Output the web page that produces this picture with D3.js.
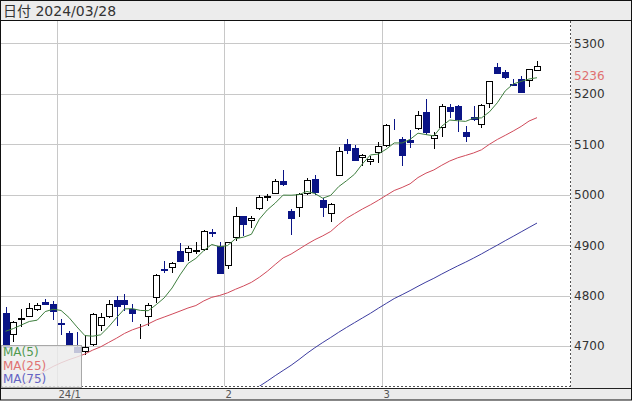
<!DOCTYPE html>
<html>
<head>
<meta charset="utf-8">
<script src="https://cdn.jsdelivr.net/npm/d3@7"></script>
<style>
  html, body { margin: 0; padding: 0; background: #fff; }
  svg { display: block; font-family: "DejaVu Sans", "Noto Sans CJK JP", sans-serif; }
</style>
</head>
<body>
<svg id="chart" width="633" height="402"></svg>
<script>
// daily candles, 2023/12/20 - 2024/03/28
const dates = [
  "2023-12-20","2023-12-21","2023-12-22","2023-12-26","2023-12-27","2023-12-28","2023-12-29",
  "2024-01-02","2024-01-03","2024-01-04","2024-01-05","2024-01-08","2024-01-09","2024-01-10","2024-01-11","2024-01-12",
  "2024-01-16","2024-01-17","2024-01-18","2024-01-19","2024-01-22","2024-01-23","2024-01-24","2024-01-25","2024-01-26",
  "2024-01-29","2024-01-30","2024-01-31",
  "2024-02-01","2024-02-02","2024-02-05","2024-02-06","2024-02-07","2024-02-08","2024-02-09","2024-02-12","2024-02-13",
  "2024-02-14","2024-02-15","2024-02-16","2024-02-20","2024-02-21","2024-02-22","2024-02-23","2024-02-26","2024-02-27",
  "2024-02-28","2024-02-29",
  "2024-03-01","2024-03-04","2024-03-05","2024-03-06","2024-03-07","2024-03-08","2024-03-11","2024-03-12","2024-03-13",
  "2024-03-14","2024-03-15","2024-03-18","2024-03-19","2024-03-20","2024-03-21","2024-03-22","2024-03-25","2024-03-26",
  "2024-03-27","2024-03-28"
];

const opens = [
  4764.73, 4724.29, 4753.92, 4758.86, 4773.45, 4786.44, 4782.88,
  4745.20, 4725.07, 4697.42, 4690.57, 4703.70, 4741.93, 4759.94, 4792.13, 4791.18, 4772.35, 4739.13, 4760.10, 4796.28,
  4853.42, 4856.80, 4888.56, 4886.66, 4888.91, 4892.95, 4925.89, 4899.19,
  4861.11, 4916.06, 4957.19, 4950.16, 4973.05, 4995.16, 5004.17, 5026.83, 4967.94, 4976.44, 5003.14, 5031.13, 4989.32,
  4963.03, 5038.83, 5100.92, 5093.00, 5074.60, 5067.20, 5085.36,
  5098.51, 5130.99, 5110.52, 5108.03, 5132.38, 5164.46, 5111.96, 5134.30, 5173.49, 5175.14, 5123.31, 5154.77, 5139.09,
  5181.69, 5253.43, 5242.48, 5219.52, 5228.85, 5226.31, 5248.03
];

const highs = [
  4778.01, 4748.71, 4772.94, 4784.72, 4785.39, 4793.30, 4788.43,
  4754.33, 4729.29, 4726.78, 4721.49, 4764.54, 4765.47, 4790.80, 4798.50, 4802.40, 4782.34, 4744.23, 4785.79, 4842.07,
  4868.41, 4866.48, 4903.68, 4898.15, 4906.69, 4929.31, 4931.09, 4906.75,
  4906.97, 4975.29, 4957.19, 4957.77, 4999.89, 5000.40, 5030.06, 5048.39, 4971.11, 5002.52, 5032.72, 5038.70, 4993.71,
  4983.21, 5094.39, 5111.06, 5097.66, 5080.69, 5077.37, 5104.99,
  5140.33, 5149.67, 5114.54, 5127.97, 5165.62, 5189.26, 5124.66, 5179.87, 5179.14, 5176.85, 5136.86, 5175.60, 5180.31,
  5226.19, 5261.10, 5246.09, 5229.09, 5235.16, 5249.26, 5264.85
];

const lows = [
  4697.82, 4708.35, 4736.77, 4758.45, 4768.90, 4780.98, 4751.99,
  4722.67, 4699.71, 4687.53, 4682.11, 4699.82, 4730.35, 4756.20, 4739.58, 4768.98, 4747.12, 4714.82, 4740.57, 4785.87,
  4844.05, 4844.37, 4865.94, 4869.34, 4881.47, 4887.40, 4916.27, 4845.15,
  4853.52, 4907.99, 4918.09, 4934.88, 4969.05, 4987.09, 5000.34, 5016.83, 4920.31, 4956.45, 4999.44, 4999.52, 4955.02,
  4946.00, 5038.83, 5081.46, 5068.91, 5057.29, 5058.35, 5061.89,
  5094.16, 5127.18, 5056.82, 5092.22, 5128.21, 5117.50, 5091.14, 5114.48, 5151.88, 5123.30, 5104.35, 5145.47, 5131.59,
  5171.55, 5240.66, 5229.87, 5216.09, 5203.42, 5213.92, 5245.82
];

const closes = [
  4698.35, 4746.75, 4754.63, 4774.75, 4781.58, 4783.35, 4769.83,
  4742.83, 4704.81, 4688.68, 4697.24, 4763.54, 4756.50, 4783.45, 4780.24, 4783.83, 4765.98, 4739.21, 4780.94, 4839.81,
  4850.43, 4864.60, 4868.55, 4894.16, 4890.97, 4927.93, 4924.97, 4845.65,
  4906.19, 4958.61, 4942.81, 4954.23, 4995.06, 4997.91, 5026.61, 5021.84, 4953.17, 5000.62, 5029.73, 5005.57, 4975.51,
  4981.80, 5087.03, 5088.80, 5069.53, 5078.18, 5069.76, 5096.27,
  5137.08, 5130.95, 5078.65, 5104.76, 5157.36, 5123.69, 5117.94, 5175.27, 5165.31, 5150.48, 5117.09, 5149.42, 5178.51,
  5224.62, 5241.53, 5234.18, 5218.19, 5203.58, 5248.49, 5254.35
];

const ma5 = [
  4729.2, 4734.6, 4741.7, 4748.6, 4751.2, 4768.2, 4772.8,
  4770.5, 4756.5, 4737.9, 4720.7, 4719.4, 4722.2, 4737.9, 4756.2, 4773.5, 4774.0, 4770.5, 4770.0, 4782.0,
  4795.3, 4815.0, 4840.9, 4863.5, 4873.7, 4889.2, 4901.3, 4896.7,
  4899.1, 4912.7, 4915.7, 4921.5, 4951.4, 4969.7, 4983.3, 4999.1, 4998.9, 5000.0, 5006.4, 5002.2, 4992.9,
  4998.7, 5015.9, 5027.7, 5040.5, 5061.1, 5078.7, 5080.5,
  5090.2, 5102.5, 5102.5, 5109.5, 5121.8, 5119.1, 5116.5, 5135.8, 5147.9, 5146.5, 5145.2, 5151.5, 5152.2,
  5164.0, 5182.2, 5205.7, 5219.4, 5224.4, 5229.2, 5231.8
];

const ma25 = [
  4601.6, 4611.4, 4621.2, 4631.7, 4641.0, 4650.8, 4659.4,
  4666.7, 4672.9, 4678.2, 4684.1, 4691.9, 4698.4, 4707.0, 4715.5, 4724.9, 4732.1, 4737.5, 4743.8, 4751.6,
  4757.4, 4763.2, 4769.2, 4775.3, 4780.2, 4789.4, 4796.5, 4800.2,
  4805.4, 4812.5, 4818.9, 4826.2, 4836.3, 4848.1, 4861.6, 4874.6, 4882.2, 4891.9, 4901.8, 4910.8, 4918.4,
  4927.1, 4941.0, 4953.3, 4962.5, 4971.6, 4979.8, 4988.9,
  4998.6, 5008.2, 5014.3, 5021.5, 5033.9, 5042.6, 5049.0, 5058.3, 5066.7, 5073.0, 5077.7, 5082.6, 5088.9,
  5099.8, 5109.4, 5117.6, 5126.1, 5135.2, 5145.9, 5152.6
];

const ma75 = [
  null, null, null, null, null, null, null,
  null, null, null, null, null, null, null, null, null, null, null, null, null,
  null, null, null, null, null, null, null, null,
  null, null, 4602.0, 4610.5, 4620.1, 4630.4, 4641.2, 4651.5, 4661.7, 4673.2, 4685.4, 4696.6, 4707.0,
  4716.9, 4727.2, 4736.9, 4746.3, 4755.6, 4764.8, 4774.8,
  4784.4, 4794.0, 4801.8, 4809.8, 4818.4, 4826.6, 4834.2, 4842.7, 4850.8, 4858.7, 4866.2, 4874.2, 4882.5,
  4891.3, 4899.9, 4908.8, 4917.4, 4926.2, 4935.0, 4943.7
];

const priceTicks = [4700, 4800, 4900, 5000, 5100, 5200, 5300];
const monthLabels = ["24/1", "2", "3"];
const lastPrice = 5236;
const headerText = "日付 2024/03/28";
const legendItems = [
  { name: "MA(5)", color: "#4f9a4f" },
  { name: "MA(25)", color: "#e07272" },
  { name: "MA(75)", color: "#6464c4" }
];

const svg = d3.select("#chart");
const W = 633, H = 402;
const plot = { left: 1, right: 570, top: 21, bottom: 386 };

const data = dates.map((d, i) => ({
  date: d3.timeParse("%Y-%m-%d")(d),
  key: d,
  open: opens[i], high: highs[i], low: lows[i], close: closes[i],
  ma5: ma5[i], ma25: ma25[i], ma75: ma75[i]
}));

const x = d3.scalePoint().domain(dates).range([5.5, 537]);
const step = x.step();
const y = d3.scaleLinear().domain([4700, 5300]).range([346, 43.3]);

// background panels
svg.append("rect").attr("x", 0).attr("y", 0).attr("width", W).attr("height", H).attr("fill", "#fff");
svg.append("rect").attr("x", 1).attr("y", 1).attr("width", 630).attr("height", 20).attr("fill", "#ececec");
svg.append("rect").attr("x", 571).attr("y", 21).attr("width", 60).attr("height", 368).attr("fill", "#ececec");
svg.append("rect").attr("x", 1).attr("y", 389).attr("width", 630).attr("height", 11).attr("fill", "#ececec");

svg.append("defs").append("clipPath").attr("id", "plotClip")
  .append("rect")
  .attr("x", plot.left).attr("y", plot.top)
  .attr("width", plot.right - plot.left).attr("height", plot.bottom - plot.top);

const g = svg.append("g").attr("clip-path", "url(#plotClip)");

// horizontal grid
g.selectAll(".hgrid").data(priceTicks).enter().append("line")
  .attr("x1", plot.left).attr("x2", plot.right)
  .attr("y1", d => Math.round(y(d)) + 0.5).attr("y2", d => Math.round(y(d)) + 0.5)
  .attr("stroke", "#c8c8c8").attr("stroke-width", 1);

// month boundaries
const monthStarts = data.filter((d, i) => i > 0 && d.date.getMonth() !== data[i - 1].date.getMonth());
const monthX = d => Math.round(x(d.key) - step / 2) + 0.5;

g.selectAll(".vgrid").data(monthStarts).enter().append("line")
  .attr("x1", monthX).attr("x2", monthX)
  .attr("y1", plot.top).attr("y2", plot.bottom)
  .attr("stroke", "#c8c8c8").attr("stroke-width", 1);

// candles
const upColor = "#000000", downColor = "#0a1486";
const candles = g.selectAll(".candle").data(data).enter().append("g");

candles.append("line")
  .attr("x1", d => Math.round(x(d.key)) + 0.5)
  .attr("x2", d => Math.round(x(d.key)) + 0.5)
  .attr("y1", d => Math.round(y(d.high)))
  .attr("y2", d => Math.round(y(d.low)))
  .attr("stroke", d => d.close >= d.open ? upColor : downColor)
  .attr("stroke-width", 1);

candles.append("rect")
  .attr("x", d => Math.round(x(d.key)) - 3 + 0.5)
  .attr("width", 6)
  .attr("y", d => Math.round(y(Math.max(d.open, d.close))) + 0.5)
  .attr("height", d => Math.max(0, Math.round(y(Math.min(d.open, d.close))) - Math.round(y(Math.max(d.open, d.close)))))
  .attr("fill", d => d.close >= d.open ? "#fff" : downColor)
  .attr("stroke", d => d.close >= d.open ? upColor : downColor)
  .attr("stroke-width", 1);

// moving averages
const maLine = key => d3.line()
  .defined(d => d[key] != null)
  .x(d => x(d.key))
  .y(d => y(d[key]));

[["ma75", "#3c3ca0"], ["ma25", "#d04a5a"], ["ma5", "#3f7f3f"]].forEach(([key, color]) => {
  g.append("path")
    .datum(data)
    .attr("fill", "none")
    .attr("stroke", color)
    .attr("stroke-width", 1)
    .attr("d", maLine(key));
});

// plot borders
svg.append("line")
  .attr("x1", plot.left).attr("x2", plot.right)
  .attr("y1", 386.5).attr("y2", 386.5)
  .attr("stroke", "#555").attr("stroke-dasharray", "2,2");
svg.append("line")
  .attr("x1", 570.5).attr("x2", 570.5)
  .attr("y1", plot.top).attr("y2", 388)
  .attr("stroke", "#555").attr("stroke-dasharray", "2,2");
svg.append("line")
  .attr("x1", 1).attr("x2", 631)
  .attr("y1", 388.5).attr("y2", 388.5)
  .attr("stroke", "#222");
svg.append("line")
  .attr("x1", 1).attr("x2", 631)
  .attr("y1", 20.5).attr("y2", 20.5)
  .attr("stroke", "#111");

// legend box
const legend = svg.append("g");
legend.append("rect")
  .attr("x", 1.5).attr("y", 345.5).attr("width", 80).attr("height", 42)
  .attr("fill", "#ececec").attr("fill-opacity", 0.82)
  .attr("stroke", "#a8a8a8");
legend.selectAll("text").data(legendItems).enter().append("text")
  .attr("x", 3)
  .attr("y", (d, i) => 356 + i * 13.7)
  .attr("fill", d => d.color)
  .attr("font-size", 12)
  .text(d => d.name);

// price axis labels
svg.selectAll(".ytick").data(priceTicks).enter().append("text")
  .attr("x", 574)
  .attr("y", d => y(d) + 4.4)
  .attr("font-size", 12)
  .attr("fill", "#333")
  .text(d => d);

svg.append("text")
  .attr("x", 574)
  .attr("y", y(lastPrice) + 4.4)
  .attr("font-size", 12)
  .attr("fill", "#e07070")
  .text(lastPrice);

// month labels
svg.selectAll(".xtick").data(monthStarts).enter().append("text")
  .attr("x", d => monthX(d) + 1)
  .attr("y", 397.5)
  .attr("font-size", 10)
  .attr("fill", "#555")
  .text((d, i) => monthLabels[i]);

// header
svg.append("text")
  .attr("x", 3)
  .attr("y", 15.5)
  .attr("font-size", 14)
  .attr("fill", "#333")
  .text(headerText);

// outer frame
svg.append("rect")
  .attr("x", 0.5).attr("y", 0.5).attr("width", 631).attr("height", 399.5)
  .attr("fill", "none").attr("stroke", "#111");
</script>
</body>
</html>
